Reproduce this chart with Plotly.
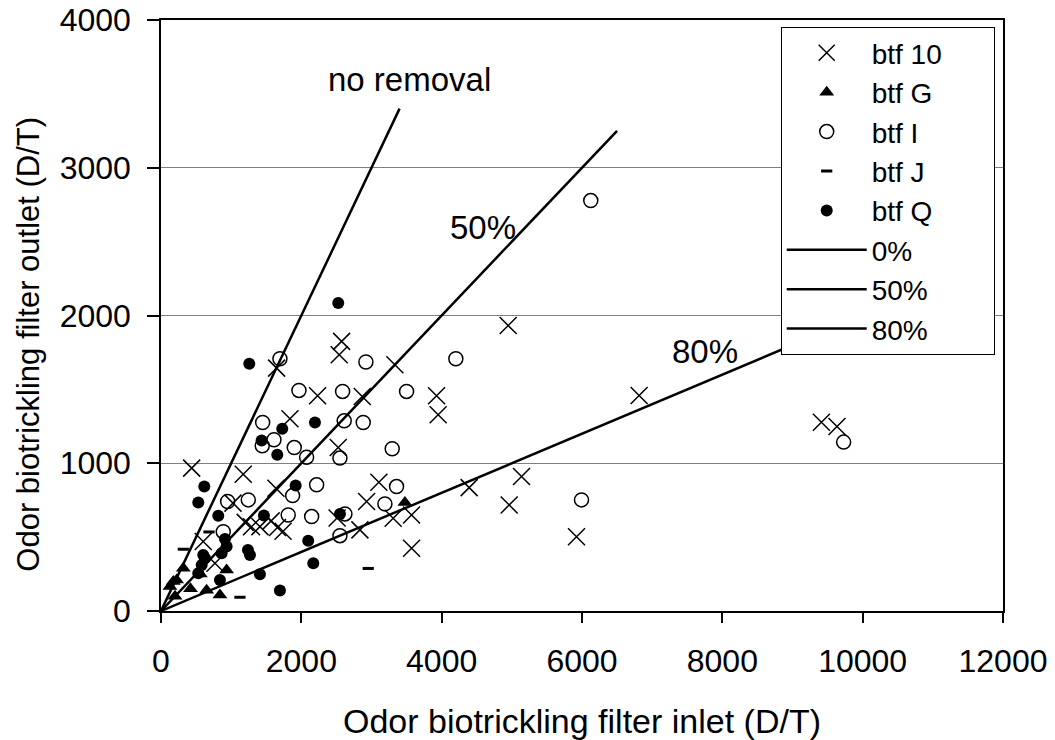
import plotly.graph_objects as go

# ---- data ----
btf10_x = [1648, 2574, 2540, 3333, 2232, 2868, 3927, 3950, 1838, 2526, 437, 1172, 1026, 1638,
           3105, 2930, 4392, 3571, 3309, 2510, 4948, 6814, 5138, 4962, 5922, 9412, 9634, 2835,
           3571, 1200, 1290, 1570, 1660, 1740, 1410, 602, 769]
btf10_y = [1644, 1825, 1734, 1667, 1457, 1452, 1457, 1328, 1301, 1106, 967, 926, 730, 831,
           872, 741, 835, 650, 628, 630, 1932, 1459, 910, 718, 503, 1278, 1249, 549,
           425, 600, 570, 610, 565, 540, 571, 470, 323]

btfG_x = [3476, 935, 840, 650, 175, 318, 223, 128, 420, 200, 560]
btfG_y = [734, 278, 108, 140, 199, 289, 210, 165, 150, 100, 250]

btfI_x = [1695, 2920, 4202, 1966, 2588, 3500, 1449, 2611, 2882, 1610, 1443, 1899, 2075, 2550,
          3295, 950, 1244, 1876, 2218, 3357, 3191, 1813, 2147, 2621, 6125, 5993, 9729, 2550, 887]
btfI_y = [1707, 1685, 1707, 1493, 1486, 1486, 1276, 1287, 1276, 1159, 1118, 1106, 1041, 1035,
          1098, 741, 752, 781, 854, 842, 725, 650, 639, 657, 2778, 752, 1143, 510, 537]

btfJ_x = [318, 684, 1125, 2953]
btfJ_y = [418, 535, 93, 288]

btfQ_x = [1258, 2526, 2194, 1728, 1434, 1657, 617, 531, 1919, 816, 1467, 2550, 912, 935,
          1239, 1268, 602, 580, 531, 864, 840, 1410, 1695, 2170, 2098, 627]
btfQ_y = [1673, 2085, 1276, 1233, 1154, 1057, 842, 735, 849, 644, 647, 657, 488, 436,
          413, 379, 379, 312, 255, 391, 210, 249, 138, 323, 476, 357]

line0_x = [0, 3400]
line0_y = [0, 3400]
line50_x = [0, 6500]
line50_y = [0, 3250]
line80_x = [0, 10000]
line80_y = [0, 2000]

FONT = "Liberation Sans, Arial, sans-serif"
NB = "\u00a0"

fig = go.Figure()

fig.add_trace(go.Scatter(x=btf10_x, y=btf10_y, mode="markers", name="btf 10" + NB * 6,
                         marker=dict(symbol="x-thin", size=17, color="black",
                                     line=dict(color="black", width=1.5))))
fig.add_trace(go.Scatter(x=btfG_x, y=btfG_y, mode="markers", name="btf G",
                         marker=dict(symbol="triangle-up", size=13, color="black")))
fig.add_trace(go.Scatter(x=btfI_x, y=btfI_y, mode="markers", name="btf I",
                         marker=dict(symbol="circle-open", size=14, color="black",
                                     line=dict(color="black", width=1.5))))
fig.add_trace(go.Scatter(x=btfJ_x, y=btfJ_y, mode="markers", name="btf J",
                         marker=dict(symbol="line-ew", size=8, color="black",
                                     line=dict(color="black", width=3))))
fig.add_trace(go.Scatter(x=btfQ_x, y=btfQ_y, mode="markers", name="btf Q",
                         marker=dict(symbol="circle", size=12, color="black")))

for lx, ly, nm in [(line0_x, line0_y, "0%"), (line50_x, line50_y, "50%"),
                   (line80_x, line80_y, "80%")]:
    fig.add_trace(go.Scatter(x=lx, y=ly, mode="lines", name=nm,
                             line=dict(color="black", width=2.5)))

for txt, ax, ay in [("no removal", 3547, 3598), ("50%", 4587, 2595), ("80%", 7749, 1755)]:
    fig.add_annotation(x=ax, y=ay, text=txt, showarrow=False,
                       font=dict(family=FONT, size=33, color="black"))

# y-axis title as a rotated label, centred where the reference has it
fig.add_annotation(xref="paper", yref="paper", x=-0.157, y=0.452,
                   text="Odor biotrickling filter outlet (D/T)", textangle=-90,
                   showarrow=False, xanchor="center", yanchor="middle",
                   font=dict(family=FONT, size=31, color="black"))

fig.update_layout(
    width=1055, height=740,
    margin=dict(l=161, r=52, t=20, b=129),
    paper_bgcolor="white", plot_bgcolor="white",
    font=dict(family=FONT, size=32, color="black"),
    showlegend=True,
    legend=dict(x=0.736, y=0.988, xanchor="left", yanchor="top",
                bgcolor="white", bordercolor="black", borderwidth=1,
                font=dict(family=FONT, size=28, color="black"),
                itemwidth=80, tracegroupgap=0),
    xaxis=dict(range=[0, 12000], dtick=2000, tick0=0, tickformat="d",
               showgrid=False, zeroline=False, automargin=False,
               showline=True, linecolor="black", linewidth=1.5, mirror=True,
               ticks="outside", ticklen=10, tickwidth=1.5, tickcolor="black",
               ticklabelstandoff=11,
               tickfont=dict(family=FONT, size=32),
               title=dict(text="Odor biotrickling filter inlet (D/T)",
                          font=dict(family=FONT, size=34), standoff=41)),
    yaxis=dict(range=[0, 4000], dtick=1000, tick0=0, tickformat="d",
               showgrid=True, gridcolor="#808080", gridwidth=1, zeroline=False,
               automargin=False,
               showline=True, linecolor="black", linewidth=1.5, mirror=True,
               ticks="outside", ticklen=12, tickwidth=1.5, tickcolor="black",
               ticklabelstandoff=10,
               tickfont=dict(family=FONT, size=32)),
)

fig.write_html("out.html")
